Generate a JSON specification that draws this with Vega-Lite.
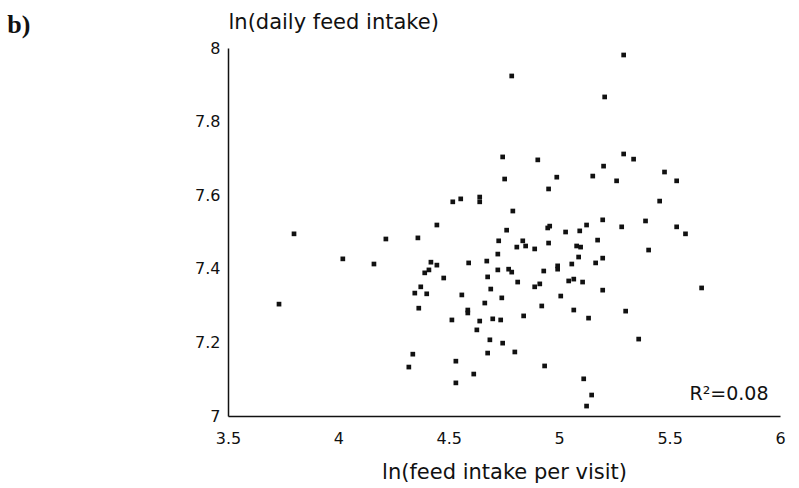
{
  "$schema": "https://vega.github.io/schema/vega-lite/v6.json",
  "width": 552,
  "height": 368,
  "autosize": {"type": "none"},
  "padding": {"left": 228, "top": 48, "right": 19, "bottom": 72},
  "background": "white",
  "config": {"view": {"stroke": null}, "font": "DejaVu Sans"},
  "datasets": {
    "points": [
      {"ln_visit": 5.292, "ln_daily": 7.981}, {"ln_visit": 4.785, "ln_daily": 7.924}, {"ln_visit": 5.206, "ln_daily": 7.867},
      {"ln_visit": 4.744, "ln_daily": 7.704}, {"ln_visit": 4.903, "ln_daily": 7.696}, {"ln_visit": 5.292, "ln_daily": 7.712},
      {"ln_visit": 5.337, "ln_daily": 7.698}, {"ln_visit": 4.753, "ln_daily": 7.644}, {"ln_visit": 4.989, "ln_daily": 7.649},
      {"ln_visit": 5.152, "ln_daily": 7.652}, {"ln_visit": 5.201, "ln_daily": 7.679}, {"ln_visit": 4.952, "ln_daily": 7.617},
      {"ln_visit": 5.260, "ln_daily": 7.639}, {"ln_visit": 5.477, "ln_daily": 7.663}, {"ln_visit": 5.532, "ln_daily": 7.639},
      {"ln_visit": 5.455, "ln_daily": 7.584}, {"ln_visit": 4.790, "ln_daily": 7.557}, {"ln_visit": 5.197, "ln_daily": 7.533},
      {"ln_visit": 5.391, "ln_daily": 7.530}, {"ln_visit": 5.124, "ln_daily": 7.519}, {"ln_visit": 5.532, "ln_daily": 7.514},
      {"ln_visit": 5.283, "ln_daily": 7.514}, {"ln_visit": 4.948, "ln_daily": 7.511}, {"ln_visit": 4.957, "ln_daily": 7.516},
      {"ln_visit": 4.762, "ln_daily": 7.505}, {"ln_visit": 5.029, "ln_daily": 7.500}, {"ln_visit": 5.093, "ln_daily": 7.503},
      {"ln_visit": 4.518, "ln_daily": 7.582}, {"ln_visit": 4.554, "ln_daily": 7.590}, {"ln_visit": 4.640, "ln_daily": 7.595},
      {"ln_visit": 4.640, "ln_daily": 7.582}, {"ln_visit": 4.446, "ln_daily": 7.519}, {"ln_visit": 3.799, "ln_daily": 7.495},
      {"ln_visit": 4.215, "ln_daily": 7.481}, {"ln_visit": 4.360, "ln_daily": 7.484}, {"ln_visit": 4.726, "ln_daily": 7.476},
      {"ln_visit": 5.572, "ln_daily": 7.495}, {"ln_visit": 5.405, "ln_daily": 7.451}, {"ln_visit": 4.835, "ln_daily": 7.476},
      {"ln_visit": 4.848, "ln_daily": 7.462}, {"ln_visit": 4.808, "ln_daily": 7.459}, {"ln_visit": 4.889, "ln_daily": 7.454},
      {"ln_visit": 4.952, "ln_daily": 7.470}, {"ln_visit": 5.079, "ln_daily": 7.462}, {"ln_visit": 5.097, "ln_daily": 7.459},
      {"ln_visit": 5.174, "ln_daily": 7.478}, {"ln_visit": 4.020, "ln_daily": 7.427}, {"ln_visit": 4.161, "ln_daily": 7.413},
      {"ln_visit": 4.419, "ln_daily": 7.418}, {"ln_visit": 4.446, "ln_daily": 7.410}, {"ln_visit": 4.391, "ln_daily": 7.389},
      {"ln_visit": 4.410, "ln_daily": 7.397}, {"ln_visit": 4.477, "ln_daily": 7.375}, {"ln_visit": 4.590, "ln_daily": 7.416},
      {"ln_visit": 4.672, "ln_daily": 7.421}, {"ln_visit": 4.722, "ln_daily": 7.440}, {"ln_visit": 4.722, "ln_daily": 7.397},
      {"ln_visit": 4.676, "ln_daily": 7.378}, {"ln_visit": 4.690, "ln_daily": 7.345}, {"ln_visit": 4.373, "ln_daily": 7.351},
      {"ln_visit": 4.346, "ln_daily": 7.334}, {"ln_visit": 4.400, "ln_daily": 7.332}, {"ln_visit": 4.364, "ln_daily": 7.293},
      {"ln_visit": 3.731, "ln_daily": 7.304}, {"ln_visit": 4.559, "ln_daily": 7.329}, {"ln_visit": 4.586, "ln_daily": 7.288},
      {"ln_visit": 4.586, "ln_daily": 7.280}, {"ln_visit": 4.663, "ln_daily": 7.307}, {"ln_visit": 4.514, "ln_daily": 7.261},
      {"ln_visit": 4.640, "ln_daily": 7.258}, {"ln_visit": 4.699, "ln_daily": 7.264}, {"ln_visit": 4.627, "ln_daily": 7.234},
      {"ln_visit": 4.686, "ln_daily": 7.207}, {"ln_visit": 4.676, "ln_daily": 7.171}, {"ln_visit": 4.337, "ln_daily": 7.168},
      {"ln_visit": 4.319, "ln_daily": 7.133}, {"ln_visit": 4.532, "ln_daily": 7.149}, {"ln_visit": 4.613, "ln_daily": 7.114},
      {"ln_visit": 4.532, "ln_daily": 7.090}, {"ln_visit": 5.088, "ln_daily": 7.432}, {"ln_visit": 5.197, "ln_daily": 7.429},
      {"ln_visit": 5.165, "ln_daily": 7.416}, {"ln_visit": 5.057, "ln_daily": 7.413}, {"ln_visit": 4.993, "ln_daily": 7.408},
      {"ln_visit": 4.993, "ln_daily": 7.399}, {"ln_visit": 4.930, "ln_daily": 7.394}, {"ln_visit": 4.771, "ln_daily": 7.399},
      {"ln_visit": 4.785, "ln_daily": 7.391}, {"ln_visit": 4.812, "ln_daily": 7.364}, {"ln_visit": 4.889, "ln_daily": 7.351},
      {"ln_visit": 4.912, "ln_daily": 7.359}, {"ln_visit": 5.043, "ln_daily": 7.367}, {"ln_visit": 5.066, "ln_daily": 7.372},
      {"ln_visit": 5.106, "ln_daily": 7.364}, {"ln_visit": 5.197, "ln_daily": 7.342}, {"ln_visit": 5.645, "ln_daily": 7.348},
      {"ln_visit": 4.740, "ln_daily": 7.321}, {"ln_visit": 5.007, "ln_daily": 7.326}, {"ln_visit": 4.921, "ln_daily": 7.299},
      {"ln_visit": 4.839, "ln_daily": 7.272}, {"ln_visit": 4.735, "ln_daily": 7.261}, {"ln_visit": 5.066, "ln_daily": 7.288},
      {"ln_visit": 5.133, "ln_daily": 7.266}, {"ln_visit": 5.301, "ln_daily": 7.285}, {"ln_visit": 5.360, "ln_daily": 7.209},
      {"ln_visit": 4.744, "ln_daily": 7.198}, {"ln_visit": 4.799, "ln_daily": 7.174}, {"ln_visit": 4.934, "ln_daily": 7.136},
      {"ln_visit": 5.111, "ln_daily": 7.101}, {"ln_visit": 5.147, "ln_daily": 7.057}, {"ln_visit": 5.124, "ln_daily": 7.027}
    ]
  },
  "layer": [
    {
      "data": {"name": "points"},
      "mark": {"type": "point", "shape": "square", "filled": true, "size": 22, "color": "#111111", "opacity": 1, "strokeWidth": 0},
      "encoding": {
        "x": {
          "field": "ln_visit", "type": "quantitative",
          "scale": {"domain": [3.5, 6], "nice": false, "zero": false},
          "axis": {
            "values": [3.5, 4, 4.5, 5, 5.5, 6], "format": "~g",
            "ticks": false, "tickSize": 0, "grid": false,
            "domainColor": "#111111", "domainWidth": 1.5,
            "labelFont": "DejaVu Sans", "labelFontSize": 16, "labelColor": "#111111",
            "labelPadding": 22, "labelBaseline": "middle", "labelFlush": false, "labelOverlap": false,
            "title": "ln(feed intake per visit)",
            "titleFont": "DejaVu Sans", "titleFontSize": 21, "titleFontWeight": "normal", "titleColor": "#111111",
            "titleBaseline": "alphabetic", "titleAlign": "center", "titleX": 276, "titleY": 62
          }
        },
        "y": {
          "field": "ln_daily", "type": "quantitative",
          "scale": {"domain": [7, 8], "nice": false, "zero": false},
          "axis": {
            "values": [7, 7.2, 7.4, 7.6, 7.8, 8], "format": "~g",
            "ticks": false, "tickSize": 0, "grid": false,
            "domainColor": "#111111", "domainWidth": 1.5,
            "labelFont": "DejaVu Sans", "labelFontSize": 16, "labelColor": "#111111",
            "labelPadding": 8, "labelFlush": false, "labelOverlap": false,
            "title": "ln(daily feed intake)",
            "titleFont": "DejaVu Sans", "titleFontSize": 21, "titleFontWeight": "normal", "titleColor": "#111111",
            "titleAngle": 0, "titleAlign": "left", "titleBaseline": "alphabetic", "titleX": 0, "titleY": -20
          }
        }
      }
    },
    {
      "data": {"values": [{"ln_visit": 5.948, "ln_daily": 7.0435, "label": "R²=0.08"}]},
      "mark": {"type": "text", "align": "right", "baseline": "alphabetic", "font": "DejaVu Sans", "fontSize": 19, "color": "#111111"},
      "encoding": {
        "x": {"field": "ln_visit", "type": "quantitative"},
        "y": {"field": "ln_daily", "type": "quantitative"},
        "text": {"field": "label", "type": "nominal"}
      }
    },
    {
      "data": {"values": [{"ln_visit": 2.5, "ln_daily": 8.041, "label": "b)"}]},
      "mark": {"type": "text", "align": "left", "baseline": "alphabetic", "font": "Liberation Serif", "fontWeight": "bold", "fontSize": 26, "color": "#111111"},
      "encoding": {
        "x": {"field": "ln_visit", "type": "quantitative"},
        "y": {"field": "ln_daily", "type": "quantitative"},
        "text": {"field": "label", "type": "nominal"}
      }
    }
  ]
}
